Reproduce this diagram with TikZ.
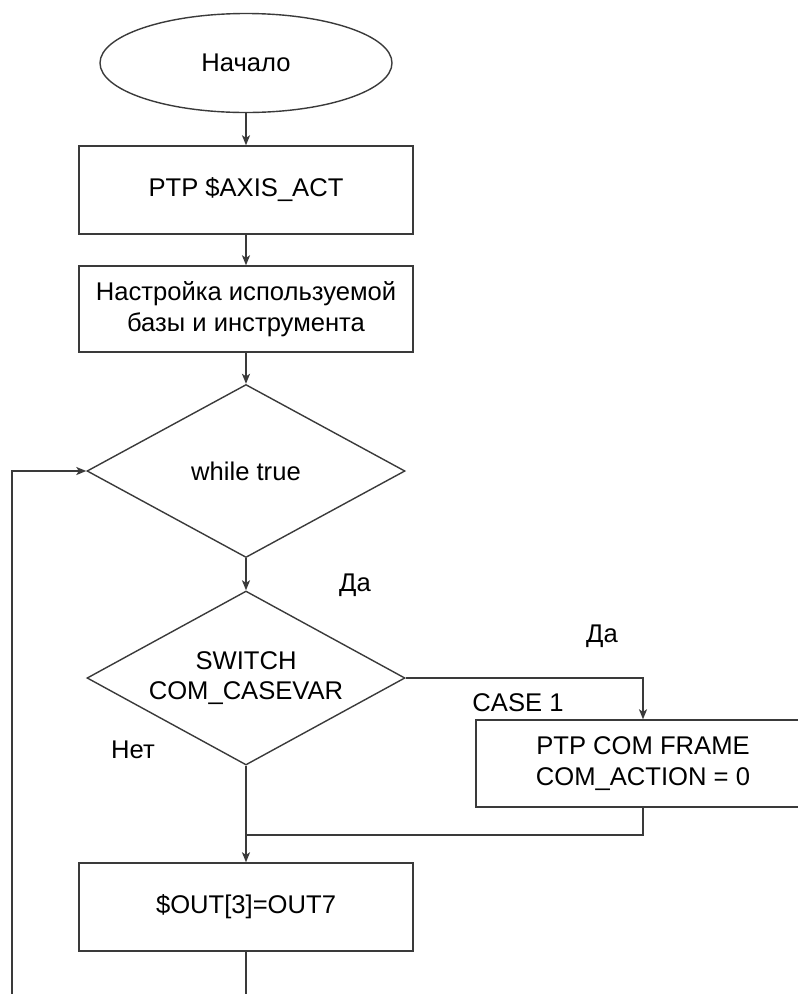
\documentclass[tikz,border=0pt]{standalone}
\usepackage{fontspec}
\setmainfont{Liberation Sans}
\usetikzlibrary{shapes.geometric,arrows.meta}
\definecolor{ln}{HTML}{3A3A3A}
\begin{document}
\begin{tikzpicture}[x=1pt,y=-1pt,
  every node/.style={font=\fontsize{25.6}{30.5}\selectfont, text=black},
  shapeline/.style={draw=ln, line width=1.4pt, inner sep=0pt, align=center},
  proc/.style={shapeline, rectangle, minimum width=334pt, minimum height=88pt},
  terminal/.style={shapeline, ellipse, minimum width=292pt, minimum height=99pt},
  decision/.style={shapeline, diamond, aspect=1.83, minimum width=318pt, minimum height=173pt},
  conn/.style={draw=ln, line width=1.4pt},
  arrow/.style={conn, -{Stealth[length=10pt,width=8pt,inset=2.5pt]}},
  lbl/.style={inner sep=0pt}]
\useasboundingbox (0,0) rectangle (798,994);
\clip (0,0) rectangle (798,994);

% blocks
\node[terminal] (start) at (246,63) {Начало};
\node[proc] (axis) at (246,190) {PTP \$AXIS\_ACT};
\node[proc, minimum height=86pt] (setup) at (246,309) {Настройка используемой\\базы и инструмента};
\node[decision] (loop) at (246,471) {while true};
\node[decision, minimum height=174pt] (switch) at (246,678) {SWITCH\\COM\_CASEVAR};
\node[proc, minimum height=87pt] (frame) at (643,763.5) {PTP COM FRAME\\COM\_ACTION = 0};
\node[proc] (out) at (246,907) {\$OUT[3]=OUT7};

% labels
\node[lbl] (yes1) at (355,585) {Да};
\node[lbl] (yes2) at (602,636) {Да};
\node[lbl] (case1) at (518,703) {CASE 1};
\node[lbl] (no) at (133,750) {Нет};

% helper points
\coordinate (merge) at (246,835);
\coordinate (back) at (12,1010);

% connectors
\draw[arrow] (start) -- (axis);
\draw[arrow] (axis) -- (setup);
\draw[arrow] (setup) -- (loop);
\draw[arrow] (loop) -- (switch);
\draw[arrow] (switch.east) -| (frame.north);
\draw[arrow] (switch.south) -- (out.north);
\draw[conn] (frame.south) |- (merge);
\draw[arrow] (out.south) |- (back) |- (loop.west);
\end{tikzpicture}
\end{document}
